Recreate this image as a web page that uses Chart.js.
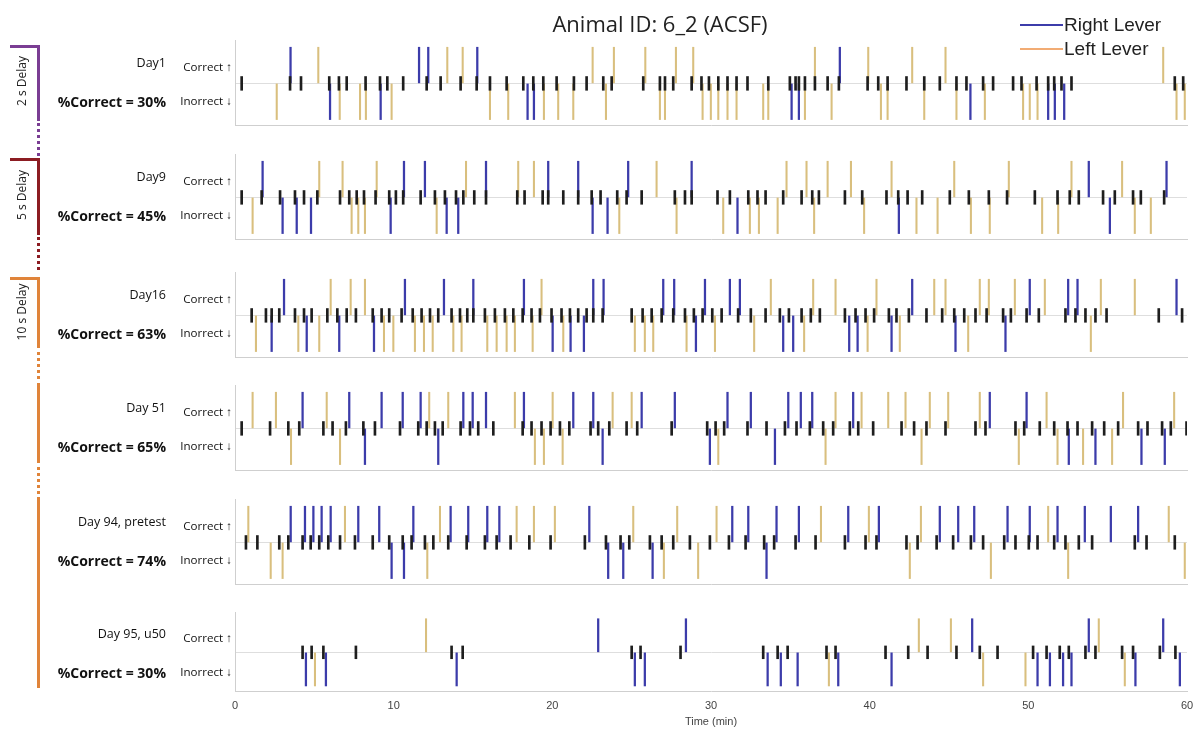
<!DOCTYPE html>
<html>
<head>
<meta charset="utf-8">
<script src="https://cdn.jsdelivr.net/npm/chart.js@4.4.1/dist/chart.umd.min.js"></script>
<style>
  html, body { margin: 0; padding: 0; background: #fff; }
  body { width: 1194px; height: 732px; position: relative; overflow: hidden; font-family: "Open Sans", "Noto Sans", sans-serif; color: #111; }
  canvas.row { position: absolute; left: 0; }
  .txt { position: absolute; white-space: nowrap; line-height: 1; }
  .seg { position: absolute; }
</style>
</head>
<body>
<script>
// ---- session data (minutes into the session) ----
const timeTicks = [0, 10, 20, 30, 40, 50, 60];
const sessionNames = ['Day1', 'Day9', 'Day16', 'Day 51', 'Day 94, pretest', 'Day 95, u50'];
const percentCorrect = [30, 45, 63, 65, 74, 30];

// Day 1
const day1Trials = [0.42, 3.47, 4.16, 5.94, 6.55, 7.04, 8.23, 9.14, 9.6, 10.6, 12.08, 12.96, 14.22, 15.23, 16.07, 17.12, 18.17, 18.8, 19.43, 20.27, 21.36, 22.16, 23.21, 23.74, 25.73, 26.78, 27.1, 27.62, 28.78, 29.4, 29.87, 30.46, 31.04, 31.61, 32.3, 33.61, 34.97, 35.33, 35.54, 35.92, 36.55, 37.35, 38.06, 39.87, 40.54, 41.13, 42.32, 43.44, 44.42, 45.47, 46.1, 47.15, 47.78, 49.04, 49.57, 50.52, 51.25, 51.63, 52.09, 52.72, 59.23, 59.76];
const day1RightCorrect = [3.5, 11.6, 12.18, 15.27, 38.12];
const day1LeftCorrect = [5.25, 13.38, 14.35, 22.54, 23.88, 25.86, 27.79, 28.88, 36.55, 39.91, 42.68, 44.78, 58.5];
const day1RightIncorrect = [5.99, 9.18, 18.44, 18.84, 35.08, 35.54, 46.35, 51.25, 51.67, 52.26];
const day1LeftIncorrect = [2.63, 6.6, 7.88, 8.25, 9.87, 16.07, 17.22, 19.47, 20.37, 21.32, 23.38, 26.78, 27.1, 29.47, 29.99, 30.46, 31.04, 31.61, 33.29, 33.61, 35.92, 37.6, 40.71, 41.13, 43.44, 45.47, 47.26, 49.67, 50.09, 50.58, 59.34, 59.86];

// Day 9
const day9Trials = [0.42, 1.68, 2.84, 3.78, 4.35, 5.19, 6.62, 7.2, 7.67, 8.13, 8.86, 9.72, 10.14, 10.6, 11.7, 12.6, 13.23, 13.93, 14.39, 15.08, 15.82, 17.79, 18.25, 19.39, 19.74, 20.69, 21.63, 22.48, 23.04, 24.09, 24.68, 25.63, 27.72, 28.36, 28.78, 30.41, 31.19, 32.35, 32.93, 33.44, 34.55, 35.71, 36.38, 36.8, 38.44, 39.53, 41.06, 41.8, 42.39, 43.31, 45.05, 46.25, 47.51, 48.66, 50.41, 51.84, 52.61, 53.18, 54.71, 55.45, 56.6, 57.09, 58.56];
const day9RightCorrect = [1.74, 10.65, 11.97, 15.82, 19.74, 21.63, 24.78, 28.78, 53.81, 58.71];
const day9LeftCorrect = [5.31, 6.78, 8.93, 14.56, 17.85, 18.84, 26.57, 34.76, 36.02, 37.35, 38.82, 41.38, 45.33, 48.77, 52.72, 55.91];
const day9RightIncorrect = [3.0, 3.89, 4.79, 9.81, 13.34, 14.07, 22.54, 23.48, 31.67, 41.84, 55.14];
const day9LeftIncorrect = [1.11, 7.35, 7.77, 8.19, 12.71, 24.22, 27.83, 30.77, 32.45, 33.02, 34.2, 36.5, 39.65, 42.95, 44.28, 46.38, 47.57, 50.87, 51.88, 56.71, 57.72];

// Day 16
const day16Trials = [1.05, 1.95, 2.31, 2.79, 3.78, 4.35, 4.83, 5.82, 6.45, 7.04, 7.62, 8.68, 9.24, 9.72, 10.5, 11.2, 11.76, 12.29, 12.81, 13.65, 14.18, 14.64, 15.02, 15.75, 16.38, 17.01, 17.54, 18.13, 18.69, 19.22, 19.95, 20.58, 21.11, 21.63, 22.16, 22.58, 23.17, 25.0, 25.69, 26.26, 26.89, 27.62, 28.36, 28.92, 29.47, 30.08, 30.67, 31.71, 32.51, 33.44, 34.34, 34.91, 35.71, 36.29, 36.86, 38.44, 39.11, 39.74, 40.28, 41.21, 41.69, 42.47, 43.58, 44.57, 45.33, 45.96, 46.67, 47.37, 48.41, 48.9, 49.89, 50.66, 52.34, 52.97, 53.6, 54.23, 54.93, 58.22, 59.69];
const day16RightCorrect = [3.09, 10.71, 13.17, 15.02, 18.21, 22.58, 23.23, 26.99, 27.68, 29.62, 31.19, 31.82, 42.68, 50.09, 52.51, 53.1, 59.34];
const day16LeftCorrect = [6.03, 7.29, 8.19, 19.32, 33.77, 36.44, 37.85, 40.43, 44.07, 44.78, 46.94, 47.51, 49.15, 51.04, 54.57, 56.71];
const day16RightIncorrect = [2.31, 4.52, 6.57, 8.76, 20.02, 21.15, 21.99, 29.05, 34.55, 35.18, 38.71, 39.24, 41.38, 45.41, 48.56];
const day16LeftIncorrect = [1.32, 3.99, 5.31, 9.39, 9.98, 11.34, 11.91, 12.46, 13.76, 14.28, 15.9, 16.49, 17.12, 17.64, 18.76, 20.69, 25.2, 25.83, 26.36, 28.46, 30.25, 32.72, 35.87, 39.87, 41.9, 46.21, 53.94];

// Day 51
const day51Trials = [0.42, 2.21, 3.36, 4.05, 5.57, 6.15, 6.99, 8.09, 8.82, 10.4, 11.55, 12.08, 12.6, 13.09, 14.22, 14.81, 15.33, 16.28, 18.13, 18.69, 19.32, 19.89, 20.48, 21.07, 22.41, 22.89, 23.59, 24.68, 25.35, 27.52, 29.76, 30.29, 30.83, 32.3, 33.5, 34.66, 35.39, 36.23, 37.07, 37.7, 38.75, 39.28, 40.22, 42.01, 42.8, 43.58, 44.78, 46.67, 47.3, 49.19, 49.74, 50.72, 51.63, 52.47, 53.1, 54.02, 54.78, 55.66, 56.92, 57.51, 58.43, 58.98, 59.97];
const day51RightCorrect = [4.26, 7.2, 9.24, 10.57, 11.7, 14.39, 14.98, 15.82, 18.21, 21.32, 22.58, 25.63, 27.72, 31.04, 32.51, 34.87, 35.66, 36.38, 38.96, 47.57, 49.89];
const day51LeftCorrect = [1.11, 2.58, 5.78, 12.24, 13.44, 17.64, 20.02, 23.8, 25.0, 37.85, 39.49, 41.17, 42.26, 43.79, 44.95, 46.94, 51.15, 55.97, 59.19];
const day51RightIncorrect = [8.19, 12.81, 23.17, 29.93, 34.03, 52.55, 54.23, 57.13, 58.6];
const day51LeftIncorrect = [3.53, 6.62, 18.9, 19.47, 20.65, 30.46, 37.22, 43.27, 49.4, 51.84, 53.45, 55.28];

// Day 94, pretest
const day94Trials = [0.69, 1.41, 2.79, 3.36, 4.26, 4.77, 5.31, 5.88, 6.62, 7.56, 8.68, 9.72, 10.57, 11.13, 11.97, 12.5, 13.44, 14.6, 15.75, 16.49, 17.37, 18.55, 19.89, 22.05, 23.38, 24.3, 24.85, 26.15, 26.89, 27.62, 28.67, 29.93, 31.13, 32.18, 33.35, 33.98, 35.33, 36.59, 38.44, 39.74, 40.43, 42.32, 43.02, 44.22, 45.26, 46.38, 47.15, 48.48, 49.19, 50.03, 50.58, 51.63, 52.34, 53.18, 54.02, 56.71, 57.45, 59.23];
const day94RightCorrect = [3.51, 4.41, 4.94, 5.46, 6.03, 7.77, 9.09, 11.24, 13.59, 14.7, 15.9, 16.66, 22.33, 31.34, 32.35, 34.13, 35.54, 38.65, 40.58, 44.42, 45.58, 46.59, 48.69, 50.09, 51.84, 53.56, 55.2, 56.92];
const day94LeftCorrect = [0.84, 6.93, 12.92, 17.75, 18.84, 20.16, 25.1, 27.87, 30.35, 36.93, 39.95, 43.23, 51.25, 58.85];
const day94RightIncorrect = [9.87, 10.65, 23.52, 24.47, 26.32, 33.5];
const day94LeftIncorrect = [2.25, 3.0, 12.12, 27.03, 29.19, 42.53, 47.64, 52.51, 59.86];

// Day 95, u50
const day95Trials = [4.26, 4.83, 5.57, 7.62, 13.65, 14.35, 25.0, 25.56, 28.08, 33.29, 34.2, 34.83, 37.28, 37.85, 41.0, 42.43, 43.65, 45.47, 46.94, 48.06, 50.3, 51.15, 51.98, 52.55, 53.6, 54.23, 55.91, 56.6, 58.29, 59.27];
const day95RightCorrect = [22.89, 28.42, 46.46, 53.81, 58.5];
const day95LeftCorrect = [12.04, 43.1, 45.12, 54.44];
const day95RightIncorrect = [4.47, 5.73, 13.97, 25.2, 25.83, 33.57, 34.4, 35.46, 38.02, 41.38, 50.58, 51.36, 52.19, 52.72, 56.75, 59.55];
const day95LeftIncorrect = [5.04, 37.43, 47.15, 49.82, 56.08];

const sessions = [
  { trials: day1Trials,  rc: day1RightCorrect,  lc: day1LeftCorrect,  ri: day1RightIncorrect,  li: day1LeftIncorrect },
  { trials: day9Trials,  rc: day9RightCorrect,  lc: day9LeftCorrect,  ri: day9RightIncorrect,  li: day9LeftIncorrect },
  { trials: day16Trials, rc: day16RightCorrect, lc: day16LeftCorrect, ri: day16RightIncorrect, li: day16LeftIncorrect },
  { trials: day51Trials, rc: day51RightCorrect, lc: day51LeftCorrect, ri: day51RightIncorrect, li: day51LeftIncorrect },
  { trials: day94Trials, rc: day94RightCorrect, lc: day94LeftCorrect, ri: day94RightIncorrect, li: day94LeftIncorrect },
  { trials: day95Trials, rc: day95RightCorrect, lc: day95LeftCorrect, ri: day95RightIncorrect, li: day95LeftIncorrect }
];

// ---- layout & style ----
const W = 1194, H = 732;
const rowCenters = [83, 197, 315, 428, 542, 654];
const RIGHT_COLOR = '#3c3caa';
const LEFT_COLOR = '#d9bf7e';
const LEGEND_LEFT_COLOR = '#f2ac74';
const TRIAL_COLOR = '#1e1e1e';
const TRIAL_HALF = 0.19;   // half height of the trial-start tick, in row units

function addText(str, x, y, opts) {
  const d = document.createElement('div');
  d.className = 'txt';
  d.textContent = str;
  Object.assign(d.style, opts.style || {});
  d.style.top = (y - opts.size * 0.55) + 'px';
  d.style.fontSize = opts.size + 'px';
  if (opts.align === 'right') { d.style.right = (W - x) + 'px'; }
  else if (opts.align === 'center') { d.style.left = (x - 300) + 'px'; d.style.width = '600px'; d.style.textAlign = 'center'; }
  else { d.style.left = x + 'px'; }
  document.body.appendChild(d);
  return d;
}

function spans(times, lo, hi) { return times.map(t => ({ x: t, y: [lo, hi] })); }

sessions.forEach((s, i) => {
  const last = i === sessions.length - 1;
  const top = rowCenters[i] - 50;
  const cv = document.createElement('canvas');
  cv.className = 'row';
  cv.width = W;
  cv.height = last ? H - top : 100;
  cv.style.top = top + 'px';
  document.body.appendChild(cv);

  new Chart(cv, {
    type: 'bar',
    data: {
      datasets: [
        { label: 'Trial', data: spans(s.trials, -TRIAL_HALF, TRIAL_HALF), backgroundColor: TRIAL_COLOR, barThickness: 2 },
        { label: 'Right Lever', data: spans(s.rc, 0, 1).concat(spans(s.ri, -1, 0)), backgroundColor: RIGHT_COLOR, barThickness: 1.6 },
        { label: 'Left Lever', data: spans(s.lc, 0, 1).concat(spans(s.li, -1, 0)), backgroundColor: LEFT_COLOR, barThickness: 1.4 }
      ]
    },
    options: {
      responsive: false,
      animation: false,
      events: [],
      layout: { padding: { left: 235, right: 7, top: last ? 8 : 7, bottom: last ? 0 : 8 } },
      datasets: { bar: { grouped: false, borderWidth: 0 } },
      plugins: { legend: { display: false }, tooltip: { enabled: false } },
      scales: {
        x: {
          type: 'linear', min: 0, max: 60, offset: false,
          afterBuildTicks: sc => { sc.ticks = timeTicks.map(v => ({ value: v })); },
          // keep the plot edges fixed even though the end labels overhang
          afterFit: sc => { sc.paddingLeft = 0; sc.paddingRight = 0; },
          grid: last
            ? { display: true, drawOnChartArea: false, drawTicks: true, tickLength: 6.5, color: 'rgba(0,0,0,0)', offset: false }
            : { display: false, offset: false, drawTicks: false },
          border: { display: true, color: '#cfcfcf', width: 1 },
          ticks: { display: last, color: '#444', padding: 3, maxRotation: 0, font: { family: 'Liberation Sans', size: 11, lineHeight: 1 } },
          title: { display: last, text: 'Time (min)', color: '#444', padding: { top: 2, bottom: 4.5 }, font: { family: 'Liberation Sans', size: 11, lineHeight: 1 } }
        },
        y: {
          min: -1.15, max: 1.2,
          afterBuildTicks: sc => { sc.ticks = [{ value: 0 }]; },
          ticks: { display: false },
          grid: { display: true, drawTicks: false, color: '#dedede', lineWidth: 1 },
          border: { display: true, color: '#cfcfcf', width: 1 }
        }
      }
    }
  });

  const c = rowCenters[i];
  addText(sessionNames[i], 166, c - 19, { size: 12.5, align: 'right' });
  addText('%Correct = ' + percentCorrect[i] + '%', 166, c + 20, { size: 14, align: 'right', style: { fontWeight: 'bold' } });
  addText('Correct \u2191', 232, c - 16, { size: 11.6, align: 'right' });
  addText('Inorrect \u2193', 232, c + 18, { size: 11.6, align: 'right' });
});

// title and legend
addText('Animal ID: 6_2 (ACSF)', 660, 24, { size: 22, align: 'center', style: { color: '#222' } });
[['Right Lever', RIGHT_COLOR, 25], ['Left Lever', LEGEND_LEFT_COLOR, 49]].forEach(([name, col, y]) => {
  const ln = document.createElement('div');
  ln.className = 'seg';
  Object.assign(ln.style, { left: '1020px', top: (y - 1) + 'px', width: '43px', height: '2px', background: col });
  document.body.appendChild(ln);
  addText(name, 1064, y, { size: 19, style: { fontFamily: 'Liberation Sans', color: '#222' } });
});

// delay-phase brackets along the left edge
function seg(x, y, w, h, col, dashed) {
  const d = document.createElement('div');
  d.className = 'seg';
  if (dashed) {
    Object.assign(d.style, { left: x + 'px', top: y + 'px', width: '0px', height: h + 'px', borderLeft: w + 'px dotted ' + col });
  } else {
    Object.assign(d.style, { left: x + 'px', top: y + 'px', width: w + 'px', height: h + 'px', background: col });
  }
  document.body.appendChild(d);
}
function bracket(label, col, yTop, solidEnd, dotEnd, textY) {
  seg(10, yTop, 30, 3, col);
  seg(37, yTop, 3, solidEnd - yTop, col);
  if (dotEnd) seg(37, solidEnd, 3, dotEnd - solidEnd, col, true);
  const t = addText(label, 22, textY, { size: 12, align: 'center', style: { transform: 'rotate(-90deg)', color: '#222' } });
  t.style.left = (22 - 300) + 'px';
}
bracket('2 s Delay', '#7a3d93', 45, 118, 156, 82);
bracket('5 s Delay', '#8c1c22', 158, 232, 270, 196);
bracket('10 s Delay', '#e0843a', 277, 345, 386, 313);
seg(37, 386, 3, 74, '#e0843a');
seg(37, 460, 3, 40, '#e0843a', true);
seg(37, 500, 3, 188, '#e0843a');
</script>
</body>
</html>
